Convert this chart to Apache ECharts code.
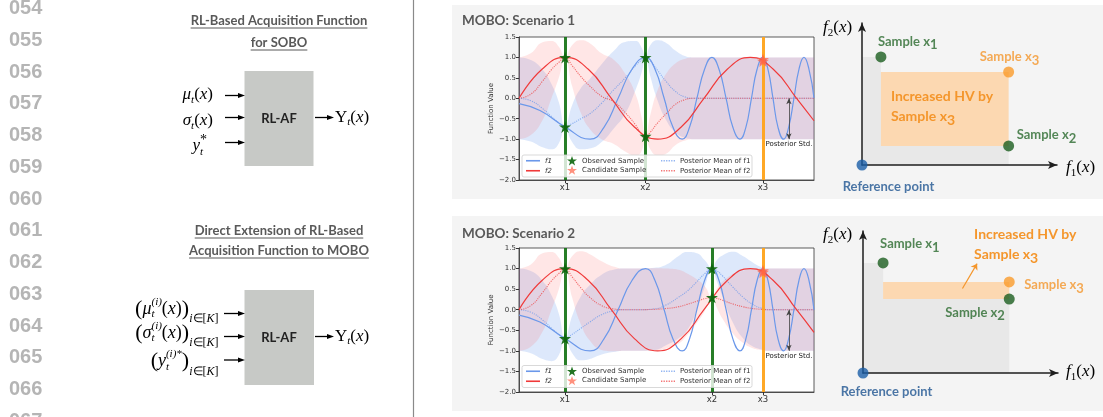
<!DOCTYPE html>
<html>
<head>
<meta charset="utf-8">
<script src="https://cdn.jsdelivr.net/npm/echarts@6/dist/echarts.min.js"></script>
<style>
html, body { margin: 0; padding: 0; background: #fff; }
#container { width: 1103px; height: 417px; }
</style>
</head>
<body>
<div id="container"></div>
<script>
// ---- data (x runs 0..10 over the plotted range) ----
var xTickNames = ['x1', 'x2', 'x3'];
var ticksS1 = [1.56, 4.29, 8.27];
var ticksS2 = [1.56, 6.54, 8.27];

// true objectives, read at peaks / crossings
var f1X = [0, 0.71, 1.56, 2.41, 2.88, 3.36, 3.83, 4.29, 4.61, 4.92, 5.22, 5.53, 5.78, 6.03, 6.29, 6.54, 6.78, 7.02, 7.25, 7.49, 7.69, 7.88, 8.07, 8.27, 8.44, 8.61, 8.78, 8.97, 9.14, 9.32, 9.49, 9.66, 9.83, 10];
var f1Y = [-0.13, -0.3, -0.7, -1.0, -0.71, 0, 0.71, 1.0, 0.71, 0, -0.71, -1.0, -0.71, 0, 0.71, 1.0, 0.71, 0, -0.71, -1.0, -0.71, 0, 0.71, 1.0, 0.71, 0, -0.71, -1.0, -0.71, 0, 0.71, 1.0, 0.71, 0];
var f2X = [0, 0.78, 1.56, 2.35, 3.13, 3.92, 4.70, 5.49, 6.27, 7.06, 7.84, 8.62, 9.41, 10];
var f2Y = [0, 0.71, 1.0, 0.71, 0, -0.71, -1.0, -0.71, 0, 0.71, 1.0, 0.71, 0, -0.55];

// scenario 1 posterior
var s1X = [0, 0.4, 0.8, 1.1, 1.35, 1.56, 1.8, 2.1, 2.4, 2.8, 3.2, 3.6, 3.95, 4.15, 4.29, 4.45, 4.7, 5.0, 5.3, 5.6, 5.9, 10];
var s1MeanF1 = [0, -0.06, -0.25, -0.45, -0.6, -0.7, -0.62, -0.5, -0.38, -0.12, 0.2, 0.5, 0.8, 0.93, 1.0, 0.92, 0.68, 0.4, 0.17, 0.04, 0, 0];
var s1MeanF2 = [0, 0.1, 0.42, 0.7, 0.88, 1.0, 0.8, 0.53, 0.3, 0.05, -0.08, -0.35, -0.65, -0.87, -0.93, -0.83, -0.6, -0.37, -0.15, -0.04, 0, 0];
var s1BlueUp = [1.0, 0.94, 0.70, 0.35, -0.10, -0.70, -0.17, 0.25, 0.47, 0.83, 1.15, 1.38, 1.40, 1.25, 1.0, 1.30, 1.42, 1.35, 1.17, 1.04, 1.0, 1.0];
var s1BlueLo = [-1.0, -1.06, -1.20, -1.25, -1.10, -0.70, -1.07, -1.25, -1.23, -1.07, -0.75, -0.38, 0.20, 0.61, 1.0, 0.54, -0.06, -0.55, -0.83, -0.96, -1.0, -1.0];
var s1RedUp = [1.0, 1.10, 1.37, 1.40, 1.26, 1.0, 1.30, 1.42, 1.35, 1.10, 0.95, 0.60, 0.10, -0.44, -0.93, -0.41, 0.20, 0.61, 0.85, 0.96, 1.0, 1.0];
var s1RedLo = [-1.0, -0.90, -0.53, 0.0, 0.50, 1.0, 0.30, -0.36, -0.75, -1.0, -1.11, -1.30, -1.40, -1.30, -0.93, -1.25, -1.40, -1.35, -1.15, -1.04, -1.0, -1.0];
var s1Observed = [[1.56, -0.7], [1.56, 1.0], [4.29, 1.0], [4.29, -0.93]];

// scenario 2 posterior
var s2X = [0, 0.4, 0.8, 1.1, 1.35, 1.56, 1.8, 2.1, 2.4, 2.8, 3.2, 3.6, 4.0, 4.6, 5.0, 5.4, 5.7, 6.0, 6.3, 6.54, 6.7, 6.9, 7.25, 7.6, 7.9, 8.2, 8.5, 10];
var s2MeanF1 = [0, -0.06, -0.25, -0.45, -0.6, -0.7, -0.6, -0.45, -0.3, -0.12, -0.03, 0, 0, 0.02, 0.12, 0.3, 0.45, 0.66, 0.88, 1.0, 0.95, 0.82, 0.55, 0.3, 0.14, 0.04, 0, 0];
var s2MeanF2 = [0, 0.1, 0.42, 0.7, 0.88, 1.0, 0.8, 0.53, 0.3, 0.1, 0.02, 0, 0, 0.01, 0.03, 0.07, 0.13, 0.2, 0.27, 0.3, 0.28, 0.23, 0.14, 0.07, 0.03, 0.01, 0, 0];
var s2BlueUp = [1.0, 0.94, 0.70, 0.35, -0.10, -0.70, -0.15, 0.33, 0.60, 0.85, 0.97, 1.0, 1.0, 1.02, 1.10, 1.30, 1.40, 1.38, 1.20, 1.0, 1.20, 1.32, 1.41, 1.30, 1.16, 1.04, 1.0, 1.0];
var s2BlueLo = [-1.0, -1.06, -1.20, -1.25, -1.10, -0.70, -1.05, -1.23, -1.20, -1.09, -1.03, -1.0, -1.0, -0.98, -0.86, -0.70, -0.50, -0.06, 0.56, 1.0, 0.70, 0.32, -0.31, -0.70, -0.88, -0.96, -1.0, -1.0];
var s2RedUp = [1.0, 1.10, 1.37, 1.40, 1.26, 1.0, 1.30, 1.42, 1.35, 1.18, 1.05, 1.0, 1.0, 1.01, 1.0, 0.97, 0.88, 0.75, 0.57, 0.3, 0.50, 0.68, 0.86, 0.95, 0.99, 1.0, 1.0, 1.0];
var s2RedLo = [-1.0, -0.90, -0.53, 0.0, 0.50, 1.0, 0.30, -0.36, -0.75, -0.98, -1.01, -1.0, -1.0, -0.99, -0.94, -0.83, -0.62, -0.35, -0.03, 0.3, 0.06, -0.22, -0.58, -0.81, -0.93, -0.98, -1.0, -1.0];
var s2Observed = [[1.56, -0.7], [1.56, 1.0], [6.54, 1.0], [6.54, 0.3]];

var candidate = [[8.27, 0.95], [8.27, 0.91]];
var stdArrow = [9.15, 0, -1.0];

// hypervolume sketches (f1, f2 on a 0..10 scale)
var hv1Ref = [0, 0];
var hv1Samples = [[0.97, 7.61], [7.52, 1.34]];
var hv1Candidate = [7.52, 6.55];
var hv2Ref = [0, 0];
var hv2Samples = [[1.03, 7.75], [7.5, 5.21]];
var hv2Candidate = [7.5, 6.41];
var hv2Arrow = [[5.1, 5.95], [5.85, 7.7]];

// ---- helpers ----
var star = 'path://M50,0 L61.8,35.1 L98.9,35.1 L68.9,56.8 L80.3,91.9 L50,70.2 L19.7,91.9 L31.1,56.8 L1.1,35.1 L38.2,35.1 Z';
var dots = 'path://M0,0h1.3v1.3h-1.3zM2.5,0h1.3v1.3h-1.3zM5,0h1.3v1.3h-1.3zM7.5,0h1.3v1.3h-1.3zM10,0h1.3v1.3h-1.3zM12.5,0h1.3v1.3h-1.3z';
var mctx = document.createElement('canvas').getContext('2d');

function pairs(xs, ys) { return xs.map(function (x, i) { return [x, ys[i]]; }); }

function txt(x, y, s, font, fill, align) {
    return { type: 'text', x: x, y: y, z: 20, silent: true,
        style: { text: s, font: font, fill: fill || '#000', textAlign: align || 'left', align: align || 'left',
                 textVerticalAlign: 'middle', verticalAlign: 'middle' } };
}
function mfont(p) { return (p.it ? 'italic ' : '') + (p.fs || 17) + 'px "Liberation Serif"'; }
// lays out a row of math tokens; "over" puts a token above the previous one
function mathRow(x, y, parts, align) {
    var xs = [], cx = 0, prevX = 0;
    parts.forEach(function (p) {
        mctx.font = mfont(p);
        var w = mctx.measureText(p.t).width;
        if (p.over) { xs.push(prevX); cx = Math.max(cx, prevX + w); }
        else { xs.push(cx); prevX = cx; cx += w; }
    });
    var x0 = align === 'right' ? x - cx : x;
    return parts.map(function (p, i) { return txt(x0 + xs[i], y + (p.dy || 0), p.t, mfont(p), '#000'); });
}
function arrow(x0, x1, y) {
    return [
        { type: 'line', z: 20, silent: true, shape: { x1: x0, y1: y, x2: x1 - 5, y2: y }, style: { stroke: '#000', lineWidth: 1.3 } },
        { type: 'polygon', z: 20, silent: true, shape: { points: [[x1, y], [x1 - 7, y - 2.6], [x1 - 7, y + 2.6]] }, style: { fill: '#000' } }
    ];
}
function underlinedTitle(cx, y, s) {
    var font = 'bold 13px Lato';
    mctx.font = font;
    var w = mctx.measureText(s).width;
    return [txt(cx, y, s, font, '#595959', 'center'),
        { type: 'line', z: 20, silent: true, shape: { x1: cx - w / 2, y1: y + 7.5, x2: cx + w / 2, y2: y + 7.5 }, style: { stroke: '#595959', lineWidth: 1 } }];
}

// ---- static figure parts ----
var g = [];
for (var i = 0; i < 14; i++) {
    g.push(txt(9, 8.5 + 31.75 * i, '0' + (54 + i), 'bold 20px "Liberation Sans"', '#b5b5b5'));
}
g.push({ type: 'line', z: 20, silent: true, shape: { x1: 413.5, y1: 0, x2: 413.5, y2: 417 }, style: { stroke: '#8a8a8a', lineWidth: 1.2 } });

// left: single objective diagram
g = g.concat(underlinedTitle(279, 20.5, 'RL-Based Acquisition Function'), underlinedTitle(279, 42.5, 'for SOBO'));
g.push({ type: 'rect', z: 19, silent: true, shape: { x: 244.5, y: 71, width: 69, height: 95 }, style: { fill: '#c7c9c6' } });
g.push(txt(279, 118.5, 'RL-AF', 'bold 13px Lato', '#222', 'center'));
g = g.concat(
    mathRow(213, 95, [{ t: 'μ', it: 1 }, { t: 't', fs: 11, it: 1, dy: 5 }, { t: '(' }, { t: 'x', it: 1 }, { t: ')' }], 'right'),
    mathRow(213, 121, [{ t: 'σ', it: 1 }, { t: 't', fs: 11, it: 1, dy: 5 }, { t: '(' }, { t: 'x', it: 1 }, { t: ')' }], 'right'),
    mathRow(207, 146, [{ t: 'y', it: 1 }, { t: 't', fs: 11, it: 1, dy: 6 }, { t: '*', fs: 14, dy: -6, over: 1 }], 'right'),
    mathRow(335, 117.5, [{ t: 'Υ' }, { t: 't', fs: 11, it: 1, dy: 5 }, { t: '(' }, { t: 'x', it: 1 }, { t: ')' }], 'left'),
    arrow(225, 245, 95.5), arrow(225, 245, 117.5), arrow(225, 245, 142.5), arrow(315, 334, 117.5)
);

// left: direct MOBO extension diagram
g = g.concat(underlinedTitle(279, 230.5, 'Direct Extension of RL-Based'), underlinedTitle(279, 250.5, 'Acquisition Function to MOBO'));
g.push({ type: 'rect', z: 19, silent: true, shape: { x: 244.5, y: 290, width: 69.5, height: 95 }, style: { fill: '#c7c9c6' } });
g.push(txt(279, 337.5, 'RL-AF', 'bold 13px Lato', '#222', 'center'));
function subK(dy) {
    return [{ t: 'i', fs: 12, it: 1, dy: dy }, { t: '∈[', fs: 12, dy: dy }, { t: 'K', fs: 12, it: 1, dy: dy }, { t: ']', fs: 12, dy: dy }];
}
g = g.concat(
    mathRow(218.5, 309, [{ t: '(', fs: 22 }, { t: 'μ', it: 1, fs: 18 }, { t: 't', fs: 11, it: 1, dy: 5 }, { t: '(i)', fs: 11, it: 1, dy: -7, over: 1 },
        { t: '(', fs: 18 }, { t: 'x', it: 1, fs: 18 }, { t: ')', fs: 18 }, { t: ')', fs: 22 }].concat(subK(10)), 'right'),
    mathRow(218.5, 333, [{ t: '(', fs: 22 }, { t: 'σ', it: 1, fs: 18 }, { t: 't', fs: 11, it: 1, dy: 5 }, { t: '(i)', fs: 11, it: 1, dy: -7, over: 1 },
        { t: '(', fs: 18 }, { t: 'x', it: 1, fs: 18 }, { t: ')', fs: 18 }, { t: ')', fs: 22 }].concat(subK(10)), 'right'),
    mathRow(218.5, 361, [{ t: '(', fs: 22 }, { t: 'y', it: 1, fs: 18 }, { t: 't', fs: 11, it: 1, dy: 6 }, { t: '(i)*', fs: 11, it: 1, dy: -7, over: 1 },
        { t: ')', fs: 22 }].concat(subK(11)), 'right'),
    mathRow(335, 336.5, [{ t: 'Υ' }, { t: 't', fs: 11, it: 1, dy: 5 }, { t: '(' }, { t: 'x', it: 1 }, { t: ')' }], 'left'),
    arrow(224, 245, 313.5), arrow(224, 245, 336.5), arrow(224, 245, 360), arrow(315, 334, 336.5)
);

// right: scenario panels
g.push({ type: 'rect', z: -10, silent: true, shape: { x: 452, y: 5, width: 651, height: 194 }, style: { fill: '#f4f4f4' } });
g.push({ type: 'rect', z: -10, silent: true, shape: { x: 452, y: 216, width: 651, height: 195 }, style: { fill: '#f4f4f4' } });
g.push(txt(462, 20.5, 'MOBO: Scenario 1', 'bold 13.5px Lato', '#595959'));
g.push(txt(462, 233.5, 'MOBO: Scenario 2', 'bold 13.5px Lato', '#595959'));
// legend frames
g.push({ type: 'rect', z: 6, silent: true, shape: { x: 522, y: 155, width: 230, height: 22, r: 2 }, style: { fill: 'rgba(255,255,255,0.8)', stroke: '#cfcfcf', lineWidth: 0.8 } });
g.push({ type: 'rect', z: 6, silent: true, shape: { x: 522, y: 365.5, width: 230, height: 22, r: 2 }, style: { fill: 'rgba(255,255,255,0.8)', stroke: '#cfcfcf', lineWidth: 0.8 } });
// hv axis names
function fName(x, y, k) {
    return mathRow(x, y, [{ t: 'f', it: 1 }, { t: k, fs: 11, dy: 5 }, { t: '(' }, { t: 'x', it: 1 }, { t: ')' }], 'left');
}
g = g.concat(fName(823, 28, '2'), fName(1066, 168, '1'), fName(823, 235, '2'), fName(1066, 372, '1'));

// ---- chart parts ----
var BLUE = '#6b98ea', RED = '#f03a3a', GREEN = '#0f700f', ORANGE = '#ffa31a';

function lineChartSeries(gi, xs, meanF1, meanF2, blueUp, blueLo, redUp, redLo, observed, ticks) {
    // y is put first so that the stack runs on the y dimension
    function band(stackId, up, lo, color) {
        var base = { type: 'line', xAxisIndex: gi, yAxisIndex: gi, stack: stackId, stackStrategy: 'all', smooth: 0.5,
            encode: { x: 1, y: 0 }, symbol: 'none', silent: true, z: 1, lineStyle: { width: 0, opacity: 0 } };
        return [
            Object.assign({ name: 'band', data: xs.map(function (x, k) { return [lo[k], x]; }) }, base),
            Object.assign({ name: 'band', data: xs.map(function (x, k) { return [+(up[k] - lo[k]).toFixed(3), x]; }),
                areaStyle: { color: color, opacity: 1 } }, base)
        ];
    }
    var common = { type: 'line', xAxisIndex: gi, yAxisIndex: gi, smooth: 0.5, symbol: 'none', silent: true, z: 2 };
    return [].concat(
        band('blue' + gi, blueUp, blueLo, 'rgba(100,149,237,0.22)'),
        band('red' + gi, redUp, redLo, 'rgba(255,90,90,0.15)'),
        [
            Object.assign({ name: 'Posterior Mean of f1', data: pairs(xs, meanF1), itemStyle: { color: 'rgba(100,149,237,0.7)' },
                lineStyle: { type: 'dotted', width: 1.1, color: 'rgba(100,149,237,0.7)' } }, common),
            Object.assign({ name: 'Posterior Mean of f2', data: pairs(xs, meanF2), itemStyle: { color: 'rgba(240,58,58,0.7)' },
                lineStyle: { type: 'dotted', width: 1.1, color: 'rgba(240,58,58,0.7)' } }, common),
            Object.assign({ name: 'f1', data: pairs(f1X, f1Y), itemStyle: { color: BLUE }, lineStyle: { width: 1.2, color: BLUE } }, common),
            Object.assign({ name: 'f2', data: pairs(f2X, f2Y), itemStyle: { color: RED }, lineStyle: { width: 1.2, color: RED } }, common),
            { type: 'line', name: 'samples', xAxisIndex: gi, yAxisIndex: gi, data: [], z: 3, silent: true,
              markLine: { silent: true, symbol: 'none', label: { show: false },
                data: [
                    { xAxis: ticks[0], lineStyle: { color: GREEN, width: 3, type: 'solid', opacity: 0.9 } },
                    { xAxis: ticks[1], lineStyle: { color: GREEN, width: 3, type: 'solid', opacity: 0.9 } },
                    { xAxis: ticks[2], lineStyle: { color: ORANGE, width: 3, type: 'solid', opacity: 0.95 } }
                ] } },
            { type: 'line', name: 'std', xAxisIndex: gi, yAxisIndex: gi, data: [], z: 3, silent: true,
              markLine: { silent: true, symbol: ['arrow', 'arrow'], symbolSize: [4, 6],
                lineStyle: { color: '#444', width: 0.8, type: 'solid' },
                label: { show: true, position: 'end', distance: 2, formatter: 'Posterior Std.', fontSize: 7, fontFamily: 'DejaVu Sans', color: '#222' },
                data: [[{ coord: [stdArrow[0], stdArrow[1]] }, { coord: [stdArrow[0], stdArrow[2]] }]] } },
            { type: 'scatter', name: 'Observed Sample', xAxisIndex: gi, yAxisIndex: gi, data: observed, symbol: star, symbolSize: 12,
              itemStyle: { color: '#0b650b', opacity: 0.9 }, z: 5, silent: true },
            { type: 'scatter', name: 'Candidate Sample', xAxisIndex: gi, yAxisIndex: gi, data: candidate, symbol: star, symbolSize: 12,
              itemStyle: { color: '#ff6347', opacity: 0.7 }, z: 5, silent: true }
        ]
    );
}

var hvRich = {
    g: { fontFamily: 'Lato', fontWeight: 'bold', fontSize: 13, color: '#2b6a2e' },
    gs: { fontFamily: 'Lato', fontWeight: 'bold', fontSize: 13, color: '#2b6a2e', padding: [7, 0, 0, 0] },
    o: { fontFamily: 'Lato', fontWeight: 'bold', fontSize: 13, color: '#f4962c' },
    os: { fontFamily: 'Lato', fontWeight: 'bold', fontSize: 13, color: '#f4962c', padding: [7, 0, 0, 0] },
    h: { fontFamily: 'Lato', fontWeight: 'bold', fontSize: 14, color: '#f4962c', lineHeight: 20 },
    hs: { fontFamily: 'Lato', fontWeight: 'bold', fontSize: 14, color: '#f4962c', lineHeight: 20, padding: [7, 0, 0, 0] },
    b: { fontFamily: 'Lato', fontWeight: 'bold', fontSize: 13, color: '#1f5591' }
};

function hvSeries(gi, ref, samples, cand, offs, hvOffset, arrowLine) {
    var list = [
        { type: 'scatter', name: 'hvArea', xAxisIndex: gi, yAxisIndex: gi, data: [], z: 2, silent: true,
          markArea: { silent: true, data: [
              [{ coord: ref, itemStyle: { color: '#e8e8e8' } }, { coord: samples[0] }],
              [{ coord: ref, itemStyle: { color: '#e8e8e8' } }, { coord: samples[1] }],
              [{ coord: [samples[0][0], samples[1][1]], itemStyle: { color: '#fcd8b1' },
                 label: { show: true, position: 'insideTopLeft', distance: 0, offset: hvOffset, rich: hvRich,
                          formatter: '{h|Increased HV by}\n{h|Sample x}{hs|3}' } },
               { coord: cand }]
          ] } },
        { type: 'scatter', name: 'hvRef', xAxisIndex: gi, yAxisIndex: gi, z: 5, silent: true, symbolSize: 11,
          itemStyle: { color: '#1a5ea8' },
          data: [{ value: ref, label: { show: true, position: 'right', distance: 0, offset: offs[0], rich: hvRich, formatter: '{b|Reference point}' } }] },
        { type: 'scatter', name: 'hvSamples', xAxisIndex: gi, yAxisIndex: gi, z: 5, silent: true, symbolSize: 11,
          itemStyle: { color: '#1b5e1f' },
          data: samples.map(function (p, k) {
              return { value: p, label: { show: true, position: 'right', distance: 0, offset: offs[k + 1], rich: hvRich,
                       formatter: '{g|Sample x}{gs|' + (k + 1) + '}' } };
          }) },
        { type: 'scatter', name: 'hvCandidate', xAxisIndex: gi, yAxisIndex: gi, z: 5, silent: true, symbolSize: 11,
          itemStyle: { color: '#fa9b2a' },
          data: [{ value: cand, label: { show: true, position: 'right', distance: 0, offset: offs[3], rich: hvRich, formatter: '{o|Sample x}{os|3}' } }] }
    ];
    if (arrowLine) {
        list.push({ type: 'scatter', name: 'hvArrow', xAxisIndex: gi, yAxisIndex: gi, data: [], z: 4, silent: true,
            markLine: { silent: true, symbol: ['none', 'arrow'], symbolSize: 6, label: { show: false },
                lineStyle: { color: '#f4962c', width: 1.2, type: 'solid' },
                data: [[{ coord: arrowLine[0] }, { coord: arrowLine[1] }]] } });
    }
    return list;
}

function plotX(gi, ticks) {
    return { gridIndex: gi, type: 'value', min: 0, max: 10,
        axisLine: { show: true, onZero: false, lineStyle: { color: '#333', width: 0.8 } },
        axisTick: { show: true, customValues: ticks, length: 3, lineStyle: { color: '#333' } },
        axisLabel: { show: true, customValues: ticks, margin: 3, fontSize: 8.5, fontFamily: 'DejaVu Sans', color: '#333',
            formatter: function (v) { return xTickNames[ticks.indexOf(v)]; } },
        splitLine: { show: false } };
}
function plotY(gi) {
    return { gridIndex: gi, type: 'value', min: -2, max: 1.5, interval: 0.5,
        name: 'Function Value', nameLocation: 'middle', nameGap: 23,
        nameTextStyle: { fontSize: 7, fontFamily: 'DejaVu Sans', color: '#333' },
        axisLine: { show: true, onZero: false, lineStyle: { color: '#333', width: 0.8 } },
        axisTick: { show: true, length: 3, lineStyle: { color: '#333' } },
        axisLabel: { fontSize: 7, fontFamily: 'DejaVu Sans', color: '#333', margin: 3,
            formatter: function (v) { return v.toFixed(1).replace('-', '\u2212'); } },
        splitLine: { show: false } };
}
function hvAxis(gi) {
    return { gridIndex: gi, type: 'value', min: 0, max: 10, z: 3,
        axisLine: { show: true, onZero: false, symbol: ['none', 'arrow'], symbolSize: [6, 9], lineStyle: { color: '#1e1e1e', width: 1.5 } },
        axisTick: { show: false }, axisLabel: { show: false }, splitLine: { show: false } };
}

function legends(top) {
    var base = { orient: 'vertical', top: top, selectedMode: false, z: 7, padding: 0,
        textStyle: { fontSize: 7, fontFamily: 'DejaVu Sans', color: '#333' } };
    return [
        Object.assign({}, base, { left: 526, itemWidth: 14, itemHeight: 1.6, itemGap: 1.5,
            data: [{ name: 'f1', icon: 'rect' }, { name: 'f2', icon: 'rect' }],
            textStyle: { fontSize: 7, fontFamily: 'DejaVu Sans', fontStyle: 'italic', color: '#333', lineHeight: 8.5 } }),
        Object.assign({}, base, { left: 567, top: top - 0.5, itemWidth: 10, itemHeight: 10, itemGap: 0, data: ['Observed Sample', 'Candidate Sample'] }),
        Object.assign({}, base, { left: 661, itemWidth: 14, itemHeight: 1.6, itemGap: 1.5,
            data: [{ name: 'Posterior Mean of f1', icon: dots }, { name: 'Posterior Mean of f2', icon: dots }],
            textStyle: { fontSize: 7, fontFamily: 'DejaVu Sans', color: '#333', lineHeight: 8.5 } })
    ];
}

var option = {
    animation: false,
    backgroundColor: '#fff',
    graphic: { elements: g },
    legend: legends(156.5).concat(legends(367)),
    grid: [
        { left: 519, top: 37, width: 295, height: 143, show: true, backgroundColor: '#fff', borderColor: '#333', borderWidth: 0.8 },
        { left: 519, top: 248, width: 295, height: 144, show: true, backgroundColor: '#fff', borderColor: '#333', borderWidth: 0.8 },
        { left: 862, top: 23, width: 195, height: 142 },
        { left: 863, top: 231, width: 195, height: 142 }
    ],
    xAxis: [plotX(0, ticksS1), plotX(1, ticksS2), hvAxis(2), hvAxis(3)],
    yAxis: [plotY(0), plotY(1), hvAxis(2), hvAxis(3)],
    series: [].concat(
        lineChartSeries(0, s1X, s1MeanF1, s1MeanF2, s1BlueUp, s1BlueLo, s1RedUp, s1RedLo, s1Observed, ticksS1),
        lineChartSeries(1, s2X, s2MeanF1, s2MeanF2, s2BlueUp, s2BlueLo, s2RedUp, s2RedLo, s2Observed, ticksS2),
        hvSeries(2, hv1Ref, hv1Samples, hv1Candidate, [[-24.8, 21.7], [-8.5, -15.3], [2.5, -11], [-34.5, -14.7]], [10, 14.5], null),
        hvSeries(3, hv2Ref, hv2Samples, hv2Candidate, [[-27.8, 18.7], [-8.5, -18.7], [-69.5, 13.7], [9.5, 3]], [91, -57], hv2Arrow)
    )
};

var myChart = echarts.init(document.getElementById('container'));
myChart.setOption(option);
</script>
</body>
</html>
